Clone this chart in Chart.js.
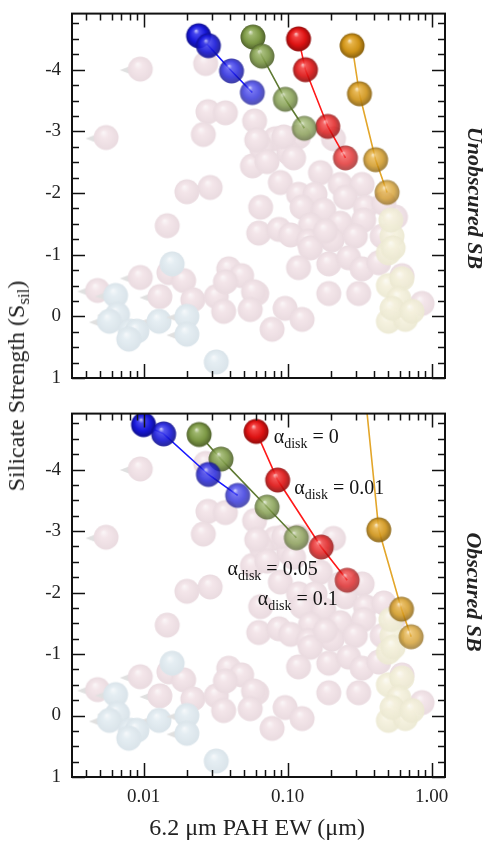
<!DOCTYPE html>
<html>
<head>
<meta charset="utf-8">
<script src="https://cdn.jsdelivr.net/npm/chart.js@4.4.0/dist/chart.umd.min.js"></script>
<style>
  body { margin: 0; background: #fff; font-family: 'Liberation Serif', 'Times New Roman', serif; }
  #wrap { position: relative; width: 484px; height: 842px; overflow: hidden; }
  canvas { position: absolute; left: 0; }
  .txt { position: absolute; white-space: nowrap; color: #222; line-height: 1; }
  #ytitle { left: 18px; top: 386px; font-size: 24px; transform: translate(-50%, -50%) rotate(-90deg); }
  #ytitle sub { font-size: 17px; vertical-align: -5px; }
  #xtitle { left: 257px; top: 827px; font-size: 24px; transform: translate(-50%, -50%); }
  .side { font-size: 22px; font-weight: bold; font-style: italic; transform: translate(-50%, -50%) rotate(90deg); }
  #side1 { left: 475px; top: 198px; }
  #side2 { left: 474px; top: 592px; }
</style>
</head>
<body>
<div id="wrap">
  <canvas id="top" width="484" height="400" style="top:0"></canvas>
  <canvas id="bottom" width="484" height="442" style="top:400px"></canvas>
  <div class="txt" id="ytitle">Silicate Strength (S<sub>sil</sub>)</div>
  <div class="txt" id="xtitle">6.2 μm PAH EW (μm)</div>
  <div class="txt side" id="side1">Unobscured SB</div>
  <div class="txt side" id="side2">Obscured SB</div>
</div>
<script>
// ---- sample (same in both panels) ----
const sbEW  = [0.027, 0.028, 0.037, 0.026, 0.059, 0.020, 0.0146, 0.065, 0.063, 0.057,
               0.082, 0.119, 0.102, 0.066, 0.208, 0.169, 0.089, 0.119, 0.155, 0.232,
               0.329, 0.252, 0.126, 0.178, 0.347, 0.087, 0.144, 0.232, 0.337, 0.56,
               0.105, 0.140, 0.203, 0.295, 0.453, 0.094, 0.072, 0.110, 0.061, 0.144,
               0.183, 0.119, 0.193, 0.265, 0.329, 0.429, 0.622, 0.061, 0.193, 0.311,
               0.096, 0.126, 0.078, 0.857, 0.015, 0.019, 0.022, 0.032, 0.039, 0.048,
               0.037, 0.036, 0.058, 0.055, 0.465];
const sbSil = [-4.10, -3.32, -3.30, -2.95, -3.17, -2.02, -1.47, -1.77, -1.35, -2.44,
               -2.88, -2.91, -2.65, -2.73, -2.88, -2.33, -2.17, -1.98, -1.98, -2.14,
               -2.14, -1.93, -1.77, -1.72, -1.77, -1.41, -1.48, -1.51, -1.56, -1.61,
               -1.32, -1.22, -1.24, -1.30, -1.30, -2.91, -2.51, -2.57, -2.86, -1.11,
               -1.38, -0.79, -0.85, -0.95, -0.77, -0.87, -0.66, -0.37, -0.37, -0.37,
               -0.13, 0.05, 0.21, -0.21, -0.71, -0.58, -0.27, -0.32, -0.77, -0.66,
               -0.56, -0.08, -0.40, -0.11, -1.83];
// upper limits on the PAH EW
const sbLimEW  = [0.0095, 0.0055, 0.029, 0.0095, 0.0048, 0.013];
const sbLimSil = [-4.01, -2.90, -2.09, -0.63, -0.42, -0.32];

const agnEW  = [0.0158, 0.0081, 0.0090, 0.0079, 0.032];
const agnSil = [-0.85, 0.24, 0.24, 0.37, 0.74];
const agnLimEW  = [0.0064, 0.0066, 0.0058, 0.0128, 0.020, 0.020];
const agnLimSil = [-0.34, -0.03, 0.08, 0.08, 0.00, 0.29];

const pahEW  = [0.50, 0.62, 0.59, 0.50, 0.656, 0.53, 0.53, 0.50, 0.73, 0.52, 0.54];
const pahSil = [-0.50, -0.61, -0.29, 0.08, 0.05, -0.13, -1.30, -1.03, -0.08, -1.56, -1.11];

// ---- model tracks ----
const topBlueEW   = [0.0241, 0.0282, 0.0408, 0.0569];
const topBlueSil  = [-4.55, -4.39, -3.98, -3.63];
const topGreenEW  = [0.0575, 0.0664, 0.0964, 0.1306];
const topGreenSil = [-4.53, -4.22, -3.52, -3.05];
const topRedEW    = [0.119, 0.133, 0.190, 0.252];
const topRedSil   = [-4.50, -4.00, -3.08, -2.57];
const topGoldEW   = [0.280, 0.315, 0.408, 0.490];
const topGoldSil  = [-4.39, -3.61, -2.54, -2.01];

const botBlueEW   = [0.0100, 0.0138, 0.0282, 0.0450];
const botBlueSil  = [-4.73, -4.58, -3.92, -3.58];
const botGreenEW  = [0.0243, 0.0345, 0.0720, 0.115];
const botGreenSil = [-4.57, -4.17, -3.39, -2.89];
const botRedEW    = [0.0604, 0.0853, 0.171, 0.259];
const botRedSil   = [-4.62, -3.83, -2.74, -2.20];
const botGoldEW   = [0.336, 0.429, 0.617, 0.720];
const botGoldSil  = [-5.5, -3.02, -1.73, -1.28];

// alpha_disk labels (bottom panel)
const noteText = ['0', '0.01', '0.05', '0.1'];
const noteEW   = [0.080, 0.111, 0.0383, 0.062];
const noteSil  = [-4.43, -3.60, -2.28, -1.80];

const xMin = 0.00319, xMax = 1.236;
const yMin = -4.91, yMax = 1;
const xLabels = { 0.01: '0.01', 0.1: '0.10', 1: '1.00' };

const pts = (xs, ys) => xs.map((v, i) => ({ x: v, y: ys[i] }));

// shaded ball sprite, optional left-pointing limit arrow
function sphere(rgb, alpha, arrow, pale) {
  const r = 12.5, tail = arrow ? 8 : 0;
  const c = document.createElement('canvas');
  c.width = 2 * Math.ceil(r + tail + 1);
  c.height = 2 * Math.ceil(r + 1);
  const g = c.getContext('2d');
  const cx = c.width / 2, cy = c.height / 2;
  const [R, G, B] = rgb;
  const shade = k => `rgb(${Math.round(R * k)},${Math.round(G * k)},${Math.round(B * k)})`;
  const tint = k => `rgb(${Math.round(R + (255 - R) * k)},${Math.round(G + (255 - G) * k)},${Math.round(B + (255 - B) * k)})`;
  g.globalAlpha = alpha;
  if (arrow) {
    g.fillStyle = pale ? 'rgb(224,224,224)' : 'rgb(140,140,140)';
    g.beginPath();
    g.moveTo(cx - r - tail, cy + 1);
    g.lineTo(cx - r + 5, cy - 4);
    g.lineTo(cx - r + 5, cy + 6);
    g.closePath();
    g.fill();
  }
  const grad = g.createRadialGradient(cx - r * 0.22, cy - r * 0.42, 0, cx, cy, r);
  if (pale) {
    grad.addColorStop(0, tint(0.7));
    grad.addColorStop(0.35, tint(0.1));
    grad.addColorStop(1, shade(0.965));
  } else {
    grad.addColorStop(0, tint(0.8));
    grad.addColorStop(0.22, tint(0.2));
    grad.addColorStop(0.65, shade(0.92));
    grad.addColorStop(1, shade(0.6));
  }
  g.fillStyle = grad;
  g.beginPath();
  g.arc(cx, cy, r, 0, Math.PI * 2);
  g.fill();
  return c;
}

const fadeAlpha = [1, 0.9, 0.8, 0.72];
function track(xs, ys, rgb, line) {
  const sprites = fadeAlpha.map(a => sphere(rgb, a, false, false));
  return {
    data: pts(xs, ys),
    showLine: true,
    borderColor: line,
    borderWidth: 1.6,
    pointStyle: ctx => sprites[ctx.dataIndex],
    pointRadius: 12,
    order: 0
  };
}

function background() {
  const pinkRGB = [243, 227, 232], blueRGB = [226, 236, 242], goldRGB = [245, 241, 218];
  const pink = sphere(pinkRGB, 1, false, true), pinkLim = sphere(pinkRGB, 1, true, true);
  const blue = sphere(blueRGB, 1, false, true), blueLim = sphere(blueRGB, 1, true, true);
  const gold = sphere(goldRGB, 0.92, false, true);
  const set = (d, s) => ({ data: d, pointStyle: s, pointRadius: 12, showLine: false, order: 2 });
  return [
    set(pts(pahEW, pahSil), gold),
    set(pts(agnEW, agnSil), blue),
    set(pts(agnLimEW, agnLimSil), blueLim),
    set(pts(sbEW, sbSil), pink),
    set(pts(sbLimEW, sbLimSil), pinkLim)
  ];
}

// inward ticks on all four sides plus the frame
const frameTicks = {
  id: 'frameTicks',
  afterDatasetsDraw(chart) {
    const { ctx, chartArea: a, scales: { x, y } } = chart;
    ctx.save();
    ctx.strokeStyle = '#111';
    ctx.lineWidth = 1.5;
    ctx.beginPath();
    x.ticks.forEach(t => {
      const px = Math.round(x.getPixelForValue(t.value)) + 0.5;
      const len = t.major ? 14 : 7;
      ctx.moveTo(px, a.bottom); ctx.lineTo(px, a.bottom - len);
      ctx.moveTo(px, a.top); ctx.lineTo(px, a.top + len);
    });
    y.ticks.forEach(t => {
      const py = Math.round(y.getPixelForValue(t.value)) + 0.5;
      const len = Number.isInteger(t.value) ? 13 : 7;
      ctx.moveTo(a.left, py); ctx.lineTo(a.left + len, py);
      ctx.moveTo(a.right, py); ctx.lineTo(a.right - len, py);
    });
    ctx.stroke();
    ctx.lineWidth = 2;
    ctx.strokeRect(a.left, a.top, a.right - a.left, a.bottom - a.top);
    ctx.restore();
  }
};

// alpha_disk = ... annotations
const notes = {
  id: 'notes',
  afterDatasetsDraw(chart, args, opts) {
    if (!opts.items) return;
    const { ctx, scales: { x, y } } = chart;
    ctx.save();
    ctx.fillStyle = '#111';
    ctx.textBaseline = 'alphabetic';
    opts.items.forEach(n => {
      let px = x.getPixelForValue(n.x);
      const py = y.getPixelForValue(n.y);
      ctx.font = "20px 'Liberation Serif'";
      ctx.fillText('α', px, py);
      px += ctx.measureText('α').width;
      ctx.font = "14px 'Liberation Serif'";
      ctx.fillText('disk', px, py + 5);
      px += ctx.measureText('disk').width;
      ctx.font = "20px 'Liberation Serif'";
      ctx.fillText(' = ' + n.t, px, py);
    });
    ctx.restore();
  }
};

function makePanel(id, tracks, showX, items, xAxisH) {
  return new Chart(document.getElementById(id), {
    type: 'scatter',
    data: { datasets: tracks.concat(background()) },
    options: {
      responsive: false,
      animation: false,
      events: [],
      layout: { padding: { left: 0, right: 39, top: 4, bottom: 0 } },
      plugins: { legend: { display: false }, tooltip: { enabled: false }, notes: { items } },
      scales: {
        x: {
          type: 'logarithmic',
          min: xMin, max: xMax,
          grid: { display: false, drawTicks: false },
          border: { display: false },
          afterBuildTicks: s => {
            const t = [];
            [0.001, 0.01, 0.1, 1].forEach(d => {
              for (let m = 1; m <= 9; m++) {
                const v = d * m;
                if (v >= xMin && v <= xMax) t.push({ value: v, major: m === 1 });
              }
            });
            s.ticks = t;
          },
          afterFit: s => { s.height = xAxisH; s.paddingLeft = s.paddingRight = 0; },
          ticks: {
            display: showX,
            autoSkip: false,
            maxRotation: 0,
            padding: 9,
            color: '#222',
            font: { family: 'Liberation Serif', size: 19 },
            callback: v => xLabels[v] || ''
          }
        },
        y: {
          type: 'linear',
          reverse: true,
          min: yMin, max: yMax,
          grid: { display: false, drawTicks: false },
          border: { display: false },
          afterBuildTicks: s => {
            const t = [];
            for (let i = -19; i <= 4; i++) t.push({ value: i / 4 });
            s.ticks = t;
          },
          afterFit: s => { s.width = 72; s.paddingTop = s.paddingBottom = 0; },
          ticks: {
            autoSkip: false,
            padding: 11,
            color: '#222',
            font: { family: 'Liberation Serif', size: 19 },
            callback: v => Number.isInteger(v) ? String(v) : ''
          }
        }
      }
    },
    plugins: [frameTicks, notes]
  });
}

makePanel('top', [
  track(topBlueEW, topBlueSil, [25, 25, 235], '#1a1aff'),
  track(topGreenEW, topGreenSil, [135, 165, 75], '#5f7a33'),
  track(topRedEW, topRedSil, [240, 20, 20], '#ff1a1a'),
  track(topGoldEW, topGoldSil, [225, 160, 25], '#e3a62a')
], false, null, 22);

makePanel('bottom', [
  track(botBlueEW, botBlueSil, [25, 25, 235], '#1a1aff'),
  track(botGreenEW, botGreenSil, [135, 165, 75], '#5f7a33'),
  track(botRedEW, botRedSil, [240, 20, 20], '#ff1a1a'),
  track(botGoldEW, botGoldSil, [225, 160, 25], '#e3a62a')
], true, noteText.map((t, i) => ({ t, x: noteEW[i], y: noteSil[i] })), 65);
</script>
</body>
</html>
